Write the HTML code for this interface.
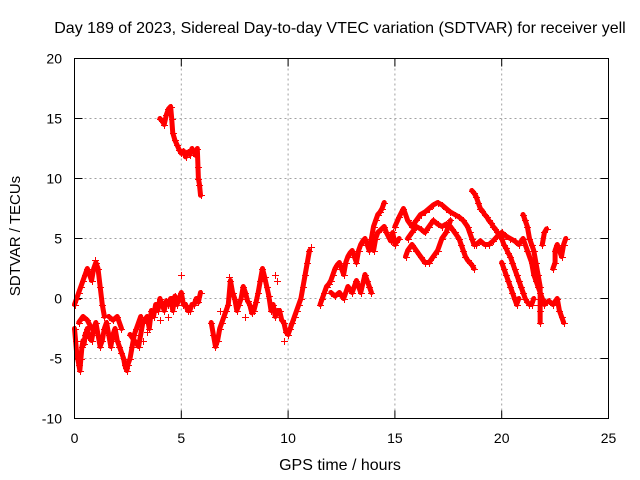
<!DOCTYPE html>
<html><head><meta charset="utf-8"><style>
html,body{margin:0;padding:0;background:#fff;}
svg{display:block;font-family:"Liberation Sans",sans-serif;}
</style></head><body>
<svg id="chart" width="640" height="480" viewBox="0 0 640 480">
<rect width="640" height="480" fill="#fff"/>
<text x="340" y="33" font-size="16" text-anchor="middle">Day 189 of 2023, Sidereal Day-to-day VTEC variation (SDTVAR) for receiver yell</text>
<text x="340" y="470" font-size="16" text-anchor="middle">GPS time / hours</text>
<text transform="translate(20,236) rotate(-90)" font-size="15" text-anchor="middle">SDTVAR / TECUs</text>
<g id="grid"></g>
<g id="ticks"></g>
<g id="bands"></g>
<g id="marks" fill="#ff0000"></g>
<rect x="74.5" y="58.5" width="534" height="360" fill="none" stroke="#000"/>
</svg>
<script>
const xTicks = [0, 5, 10, 15, 20, 25];
const yTicks = [-10, -5, 0, 5, 10, 15, 20];
const chainA = [[0,-2.5],[0.05,-3.5],[0.1,-4.5],[0.15,-5],[0.2,-5.5],[0.25,-6],[0.3,-5],[0.35,-4],[0.4,-3.5],[0.45,-3.8],[0.5,-3],[0.55,-2.8],[0.6,-2.5],[0.65,-3.2],[0.7,-3],[0.8,-3.5],[0.9,-2.5],[1.0,-2],[1.1,-3],[1.2,-4],[1.3,-3.5],[1.4,-2.5],[1.5,-2],[1.6,-3],[1.7,-4],[1.8,-3],[1.9,-2.5],[2.0,-3.5],[2.1,-4],[2.2,-4.5],[2.3,-5],[2.35,-5.5],[2.4,-5.8],[2.45,-6],[2.5,-5.5],[2.6,-5],[2.7,-4],[2.8,-3],[2.9,-2.5],[3.0,-2],[3.1,-1.5]];
const chainB = [[0,-0.5],[0.1,0],[0.2,0.5],[0.3,1],[0.4,1.5],[0.5,2],[0.6,2.5],[0.7,2],[0.8,1.5],[0.9,2.5],[1.0,3],[1.1,2.5],[1.2,1],[1.3,-0.5],[1.4,-1.5]];
const chainB2 = [[0.2,-2],[0.4,-1.5],[0.6,-1.8],[0.8,-2.5]];
const chainB3 = [[1.6,-1.5],[1.8,-1.8],[2.0,-1.5],[2.2,-2.5]];
const chainC = [[2.6,-3],[2.8,-3.5],[3.0,-4],[3.2,-2],[3.4,-1.5],[3.5,-2.5],[3.6,-1],[3.7,-1.5],[3.8,-0.5],[3.9,-1],[4.0,0],[4.1,-0.5],[4.2,-1],[4.3,-0.2],[4.4,-0.5],[4.5,0],[4.6,-1],[4.7,0.2],[4.8,-0.5],[4.9,0],[5.0,0.5],[5.1,-0.5],[5.2,-0.5],[5.3,-1],[5.4,-1],[5.5,-0.5],[5.6,-0.5],[5.7,0],[5.8,-0.3],[5.9,0.5]];
const chainHigh = [[4.0,15],[4.1,14.8],[4.2,14.5],[4.3,15.3],[4.4,15.8],[4.5,16],[4.55,15],[4.6,13.8],[4.7,13.2],[4.8,12.8],[4.9,12.4],[5.0,12.1],[5.1,12.3],[5.2,11.8],[5.3,12.2],[5.4,12],[5.5,12.5],[5.6,12.2],[5.7,11.9],[5.75,12.5],[5.78,11],[5.8,10],[5.85,9.5],[5.9,8.6]];
const chainD = [[6.4,-2],[6.5,-3],[6.6,-4],[6.7,-3.5],[6.8,-2.5],[6.9,-2],[7.0,-1.5],[7.1,-1],[7.2,-0.5],[7.3,1.5],[7.4,0.5],[7.5,0],[7.6,-1],[7.7,-0.5],[7.8,0],[7.9,1],[8.0,0.5],[8.1,-0.2],[8.2,-0.5],[8.3,-1.2],[8.4,-1],[8.5,-0.3],[8.6,0.5],[8.7,1.5],[8.8,2.5],[8.9,1.8],[9.0,1],[9.1,0.2],[9.2,-1],[9.3,-0.5],[9.4,-1.5],[9.5,-1],[9.6,-1],[9.7,-1.8],[9.8,-2],[9.9,-2.8],[10.0,-3],[10.1,-2.5],[10.2,-2],[10.3,-1.5],[10.4,-1],[10.5,-0.5],[10.6,0],[10.7,1],[10.8,2],[10.9,3],[11.0,4]];
const chainE = [[11.5,-0.5],[11.6,0],[11.7,0.5],[11.8,1],[11.9,1.2],[12.0,1.5],[12.1,2],[12.2,2.5],[12.3,2.8],[12.4,3],[12.5,2.5],[12.6,2],[12.7,3],[12.8,3.5],[12.9,3.8],[13.0,4],[13.1,3.5],[13.2,3],[13.3,4],[13.4,4.5],[13.5,4.8],[13.6,5],[13.7,4.5],[13.8,4],[13.9,5],[14.0,6],[14.1,6.5],[14.2,7],[14.3,7.2],[14.4,7.5],[14.5,8]];
const chainE2 = [[12.0,0.5],[12.2,0.2],[12.4,0.5],[12.6,0],[12.8,1],[13.0,0.5],[13.2,1.5],[13.4,0.5],[13.6,2],[13.7,1.5],[13.8,1],[13.9,0.5]];
const chainE3 = [[14.0,4],[14.1,5],[14.2,5.5],[14.5,6],[14.6,5.5],[14.8,4.8],[14.9,5.5],[15.0,4.5],[15.2,5]];
const chainF = [[15.0,6],[15.2,6.8],[15.4,7.5],[15.6,6.5],[15.8,6],[16.0,6.5],[16.2,7],[16.4,7.2],[16.6,7.5],[16.8,7.8],[17.0,8],[17.2,7.8],[17.4,7.5],[17.6,7.2],[17.8,7],[18.0,6.8],[18.2,6.5],[18.4,6],[18.5,5.5],[18.6,5],[18.7,4.5],[18.8,4.5]];
const chainF2 = [[15.6,5],[15.8,5.5],[16.0,6],[16.2,5.8],[16.4,5.5],[16.6,6],[16.8,6.5],[17.0,6.2],[17.2,6],[17.4,6.2],[17.6,6],[17.8,5.5],[18.0,5],[18.1,4.5],[18.2,4],[18.3,3.5],[18.4,3.2],[18.5,3],[18.6,2.8],[18.7,2.5]];
const chainF3 = [[15.5,3.5],[15.6,4],[15.8,4.5],[16.0,4],[16.2,3.5],[16.4,3],[16.6,3],[16.8,3.5],[17.0,4],[17.2,5],[17.4,5.5],[17.6,6.5]];
const chainG = [[18.6,9],[18.7,8.8],[18.8,8.5],[18.9,8],[19.0,7.5],[19.1,7.3],[19.2,7],[19.3,6.8],[19.4,6.5],[19.5,6.3],[19.6,6],[19.7,5.8],[19.8,5.5],[19.9,5.2],[20.0,5],[20.1,4.5],[20.2,4.2],[20.3,3.8],[20.4,3.5],[20.5,3],[20.6,2.5],[20.7,2],[20.8,1.5],[20.9,1],[21.0,0.5],[21.1,0],[21.2,-0.3],[21.3,-0.5],[21.4,-0.5],[21.5,0]];
const chainG2 = [[18.8,4.5],[19.0,4.8],[19.2,4.5],[19.4,4.5],[19.6,4.8],[19.8,5.2],[20.0,5.5],[20.2,5.2],[20.4,5],[20.6,4.8],[20.8,4.5],[21.0,5],[21.2,4],[21.4,3],[21.5,2],[21.6,1.5],[21.7,1],[21.8,0.5],[21.9,0],[22.0,-0.5],[22.2,-0.2],[22.4,-0.5],[22.6,0],[22.7,-1],[22.8,-1.5],[22.9,-2]];
const chainG3 = [[20.0,3],[20.1,2.5],[20.2,2],[20.3,1.5],[20.4,1],[20.5,0.5],[20.6,0],[20.7,-0.5],[20.8,0]];
const chainG4 = [[21.0,7],[21.1,6.5],[21.2,6],[21.3,5],[21.4,4.5],[21.5,4],[21.6,3],[21.7,2],[21.8,1],[21.8,-1],[21.8,-2]];
const chainG5 = [[21.9,4.5],[22.0,5.5],[22.1,5.8]];
const chainG6 = [[22.4,2.5],[22.5,3],[22.5,4],[22.6,4.5],[22.7,4],[22.8,3.5],[22.9,4.5],[23.0,5]];
const scatterOnly = [[3.2,-3.5],[3.4,-2.8],[4.0,-1.8],[4.4,-1.5],[5.0,2],[6.8,-1],[8.0,-1.5],[9.4,2],[9.5,1.5],[9.8,-3.5],[21.7,-0.5],[0.95,3.2],[7.25,1.8],[11.05,4.3]];
const chains = [chainA, chainB, chainB2, chainB3, chainC, chainHigh, chainD, chainE, chainE2, chainE3, chainF, chainF2, chainF3, chainG, chainG2, chainG3, chainG4, chainG5, chainG6];

const X0 = 74.5, X1 = 608.5, Y0 = 418.5, Y1 = 58.5;
const xScale = h => X0 + h / 25 * (X1 - X0);
const yScale = v => Y0 - (v + 10) / 30 * (Y0 - Y1);
const NS = 'http://www.w3.org/2000/svg';
const grid = document.getElementById('grid');
const ticks = document.getElementById('ticks');
const svg = document.getElementById('chart');
const bands = document.getElementById('bands');
const marks = document.getElementById('marks');

xTicks.forEach(t => {
  const x = xScale(t);
  if (t > 0 && t < 25) {
    const l = document.createElementNS(NS, 'line');
    l.setAttribute('x1', x); l.setAttribute('x2', x); l.setAttribute('y1', Y1); l.setAttribute('y2', Y0);
    l.setAttribute('stroke', '#a0a0a0'); l.setAttribute('stroke-dasharray', '2,3');
    
    
    grid.appendChild(l);
  }
  const tk = document.createElementNS(NS, 'path');
  tk.setAttribute('d', `M${x},${Y0}v-8M${x},${Y1}v8`);
  tk.setAttribute('stroke', '#000');
  
  
  ticks.appendChild(tk);
  const tx = document.createElementNS(NS, 'text');
  tx.setAttribute('x', x); tx.setAttribute('y', 443); tx.setAttribute('font-size', '14'); tx.setAttribute('text-anchor', 'middle');
  tx.textContent = t;
  
  
  svg.appendChild(tx);
});
yTicks.forEach(t => {
  const y = yScale(t);
  if (t > -10 && t < 20) {
    const l = document.createElementNS(NS, 'line');
    l.setAttribute('x1', X0); l.setAttribute('x2', X1); l.setAttribute('y1', y); l.setAttribute('y2', y);
    l.setAttribute('stroke', '#a0a0a0'); l.setAttribute('stroke-dasharray', '2,3');
    
    
    grid.appendChild(l);
  }
  const tk = document.createElementNS(NS, 'path');
  tk.setAttribute('d', `M${X0},${y}h8M${X1},${y}h-8`);
  tk.setAttribute('stroke', '#000');
  
  
  ticks.appendChild(tk);
  const tx = document.createElementNS(NS, 'text');
  tx.setAttribute('x', 62); tx.setAttribute('y', y + 5); tx.setAttribute('font-size', '14'); tx.setAttribute('text-anchor', 'end');
  tx.textContent = t;
  
  
  svg.appendChild(tx);
});

chains.forEach(ch => {
  const pl = document.createElementNS(NS, 'polyline');
  pl.setAttribute('points', ch.map(p => xScale(p[0]) + ',' + yScale(p[1])).join(' '));
  pl.setAttribute('fill', 'none');
  pl.setAttribute('stroke', '#ff0000');
  pl.setAttribute('stroke-width', '5');
  pl.setAttribute('stroke-linejoin', 'round');
  pl.setAttribute('stroke-linecap', 'round');
  
  
  bands.appendChild(pl);
});

function plus(p) {
  const x = Math.round(xScale(p[0])), y = Math.round(yScale(p[1]));
  const g = document.createElementNS(NS, 'g');
  
  
  const h = document.createElementNS(NS, 'rect');
  h.setAttribute('x', x - 3); h.setAttribute('y', y); h.setAttribute('width', 7); h.setAttribute('height', 1);
  h.setAttribute('fill', '#ff0000');
  const v = document.createElementNS(NS, 'rect');
  v.setAttribute('x', x); v.setAttribute('y', y - 3); v.setAttribute('width', 1); v.setAttribute('height', 7);
  v.setAttribute('fill', '#ff0000');
  g.appendChild(h);
  g.appendChild(v);
  marks.appendChild(g);
}
chains.forEach(ch => ch.forEach(plus));
scatterOnly.forEach(plus);
</script>
</body></html>
